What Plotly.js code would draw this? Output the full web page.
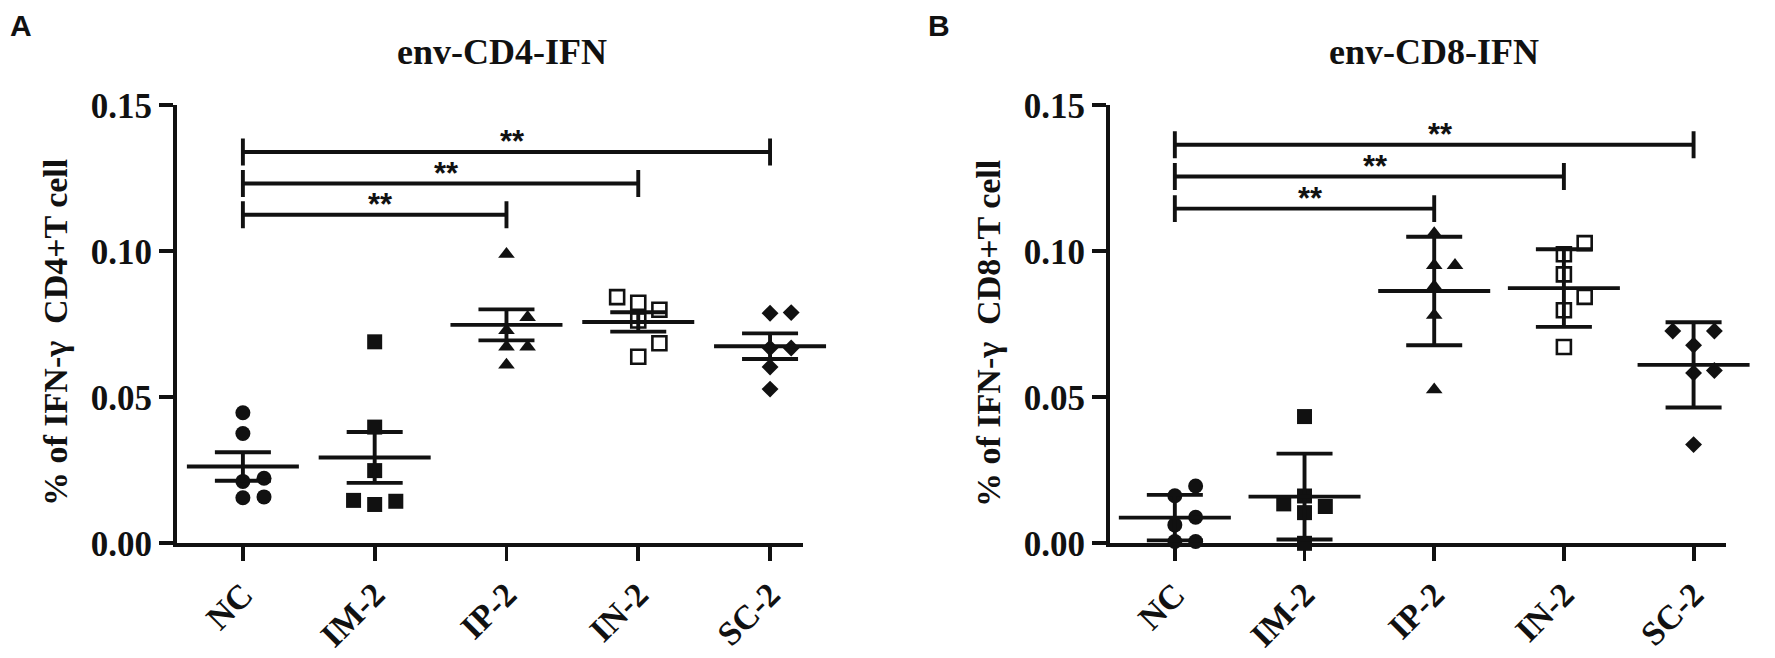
<!DOCTYPE html>
<html>
<head>
<meta charset="utf-8">
<script src="https://cdn.plot.ly/plotly-3.0.1.min.js"></script>
<style>html,body{margin:0;padding:0;background:#fff;}#chart{width:1775px;height:658px;}</style>
</head>
<body>
<div id="chart"></div>
<script>
// ---------- data ----------
const categories = ['NC', 'IM-2', 'IP-2', 'IN-2', 'SC-2'];
const yTickVals = [0, 0.05, 0.10, 0.15];
const yTickText = ['0.00', '0.05', '0.10', '0.15'];

// Panel A: env-CD4-IFN
const titleA = 'env-CD4-IFN';
const yTitleA = '% of IFN-γ  CD4+T cell';
const ncA  = [0.0447, 0.0376, 0.0223, 0.0212, 0.0159, 0.0156];
const im2A = [0.0690, 0.0398, 0.0249, 0.0147, 0.0144, 0.0133];
const ip2A = [0.0990, 0.0774, 0.0729, 0.0673, 0.0673, 0.0611];
const in2A = [0.0843, 0.0824, 0.0800, 0.0763, 0.0685, 0.0639];
const sc2A = [0.0790, 0.0788, 0.0669, 0.0669, 0.0604, 0.0528];
const meanA = [0.0263, 0.0294, 0.0748, 0.0758, 0.0675];
const errA  = [0.0049, 0.0087, 0.0053, 0.0033, 0.0044];
const bracketFromA = [0, 0, 0];
const bracketToA   = [2, 3, 4];
const bracketYA    = [0.1125, 0.1232, 0.1340];
const bracketTextA = ['**', '**', '**'];

// Panel B: env-CD8-IFN
const titleB = 'env-CD8-IFN';
const yTitleB = '% of IFN-γ  CD8+T cell';
const ncB  = [0.0196, 0.0163, 0.0089, 0.0063, 0.0006, 0.0006];
const im2B = [0.0434, 0.0162, 0.0135, 0.0126, 0.0105, 0.0000];
const ip2B = [0.1061, 0.0952, 0.0952, 0.0880, 0.0781, 0.0526];
const in2B = [0.1028, 0.0990, 0.0921, 0.0844, 0.0798, 0.0672];
const sc2B = [0.0727, 0.0727, 0.0678, 0.0592, 0.0583, 0.0338];
const meanB = [0.0088, 0.0160, 0.0864, 0.0874, 0.0611];
const errB  = [0.0078, 0.0147, 0.0186, 0.0133, 0.0146];
const bracketFromB = [0, 0, 0];
const bracketToB   = [2, 3, 4];
const bracketYB    = [0.1146, 0.1256, 0.1365];
const bracketTextB = ['**', '**', '**'];

// ---------- styling ----------
const W = 1775, H = 658;
const SERIF = 'Liberation Serif, Times New Roman, serif';
const SANS = 'Liberation Sans, Arial, sans-serif';
const pxPerY = 2920;          // plot pixels per y unit
const pxPerX = 131;           // plot pixels per category
const stepPx = 21, thr = 15;  // swarm spacing
const symbols = ['circle', 'square', 'triangle-up', 'square-open', 'diamond'];
const sizes = [15, 15, 14.5, 14, 13];
const LW = 3.9;

function swarm(vals) {
  const order = vals.map((v, i) => i).sort((a, b) => vals[a] - vals[b]);
  const placed = [];
  const off = new Array(vals.length).fill(0);
  for (const i of order) {
    for (const k of [0, 1, -1, 2, -2]) {
      const ok = placed.every(p => Math.hypot((k - p.k) * stepPx, (vals[i] - p.v) * pxPerY) >= thr);
      if (ok) { off[i] = k * stepPx / pxPerX; placed.push({k: k, v: vals[i]}); break; }
    }
  }
  return off;
}

function panelTraces(groups, means, errs, bFrom, bTo, bY, xa, ya) {
  const traces = [];
  groups.forEach((vals, g) => {
    const off = swarm(vals);
    const sym = symbols[g];
    const open = sym.endsWith('open');
    traces.push({
      type: 'scatter', mode: 'markers', xaxis: xa, yaxis: ya,
      x: vals.map((v, i) => g + off[i]), y: vals,
      cliponaxis: false, hoverinfo: 'y', showlegend: false,
      marker: {
        symbol: sym, size: sizes[g], color: '#111',
        line: {color: '#111', width: open ? 2.6 : 0}
      }
    });
  });
  traces.push({
    type: 'scatter', mode: 'markers', xaxis: xa, yaxis: ya,
    x: categories.map((c, i) => i), y: means,
    cliponaxis: false, hoverinfo: 'y', showlegend: false,
    marker: {symbol: 'line-ew', size: 80, color: '#111', line: {color: '#111', width: LW}},
    error_y: {type: 'data', array: errs, visible: true, color: '#111', thickness: LW, width: 28}
  });
  const bx = [], by = [];
  const d = 0.0046;
  bY.forEach((h, i) => {
    const a = bFrom[i], b = bTo[i];
    bx.push(a, a, null, a, b, null, b, b, null);
    by.push(h - d, h + d, null, h, h, null, h - d, h + d, null);
  });
  traces.push({
    type: 'scatter', mode: 'lines', xaxis: xa, yaxis: ya, x: bx, y: by,
    cliponaxis: false, hoverinfo: 'skip', showlegend: false,
    line: {color: '#111', width: LW}
  });
  return traces;
}

const traces = [].concat(
  panelTraces([ncA, im2A, ip2A, in2A, sc2A], meanA, errA, bracketFromA, bracketToA, bracketYA, 'x', 'y'),
  panelTraces([ncB, im2B, ip2B, in2B, sc2B], meanB, errB, bracketFromB, bracketToB, bracketYB, 'x2', 'y2')
);

function xAxis(domain, anchor) {
  return {
    domain: domain, anchor: anchor, range: [-0.5, 4.25],
    tickmode: 'array', tickvals: categories.map((c, i) => i), ticktext: categories,
    tickangle: -45, ticks: 'outside', ticklen: 14, tickwidth: LW, tickcolor: '#111',
    showline: true, linewidth: LW, linecolor: '#111', showgrid: false, zeroline: false,
    tickfont: {family: SERIF, size: 34, color: '#111', weight: 'bold'}, fixedrange: true
  };
}
function yAxis(anchor) {
  return {
    domain: [0.1743, 0.840], anchor: anchor, range: [0, 0.15],
    tickmode: 'array', tickvals: yTickVals, ticktext: yTickText,
    ticks: 'outside', ticklen: 14, tickwidth: LW, tickcolor: '#111',
    showline: true, linewidth: LW, linecolor: '#111', showgrid: false, zeroline: false,
    tickfont: {family: SERIF, size: 35, color: '#111', weight: 'bold'}, fixedrange: true
  };
}

const annotations = [];
function addPanelText(letter, letterX, title, titleX, yTitle, yTitleX, bFrom, bTo, bY, bTxt, xr, yr) {
  annotations.push({xref: 'paper', yref: 'paper', x: letterX, y: 1 - 25 / H, xanchor: 'left', yanchor: 'middle',
    text: letter, showarrow: false, font: {family: SANS, size: 30, color: '#111', weight: 'bold'}});
  annotations.push({xref: 'paper', yref: 'paper', x: titleX, y: 1 - 52 / H, xanchor: 'center', yanchor: 'middle',
    text: title, showarrow: false, font: {family: SERIF, size: 36, color: '#111', weight: 'bold'}});
  annotations.push({xref: 'paper', yref: 'paper', x: yTitleX, y: 1 - 333 / H, xanchor: 'center', yanchor: 'middle',
    text: yTitle, textangle: -90, showarrow: false, font: {family: SERIF, size: 34, color: '#111', weight: 'bold'}});
  bY.forEach((h, i) => {
    annotations.push({xref: xr, yref: yr, x: (bFrom[i] + bTo[i]) / 2, y: h, xanchor: 'center', yanchor: 'bottom',
      yshift: -9, xshift: 6, text: bTxt[i], showarrow: false, font: {family: SANS, size: 31, color: '#111', weight: 'bold'}});
  });
}
addPanelText('A', 8 / W, titleA, 502 / W, yTitleA, 56 / W, bracketFromA, bracketToA, bracketYA, bracketTextA, 'x', 'y');
addPanelText('B', 926 / W, titleB, 1434 / W, yTitleB, 989 / W, bracketFromB, bracketToB, bracketYB, bracketTextB, 'x2', 'y2');

const layout = {
  width: W, height: H, margin: {l: 0, r: 0, t: 0, b: 0},
  paper_bgcolor: '#fff', plot_bgcolor: '#fff', showlegend: false,
  xaxis: xAxis([177 / W, 803 / W], 'y'),
  yaxis: yAxis('x'),
  xaxis2: xAxis([1110 / W, 1726 / W], 'y2'),
  yaxis2: yAxis('x2'),
  annotations: annotations
};

Plotly.newPlot('chart', traces, layout, {displayModeBar: false, staticPlot: true});
</script>
</body>
</html>
